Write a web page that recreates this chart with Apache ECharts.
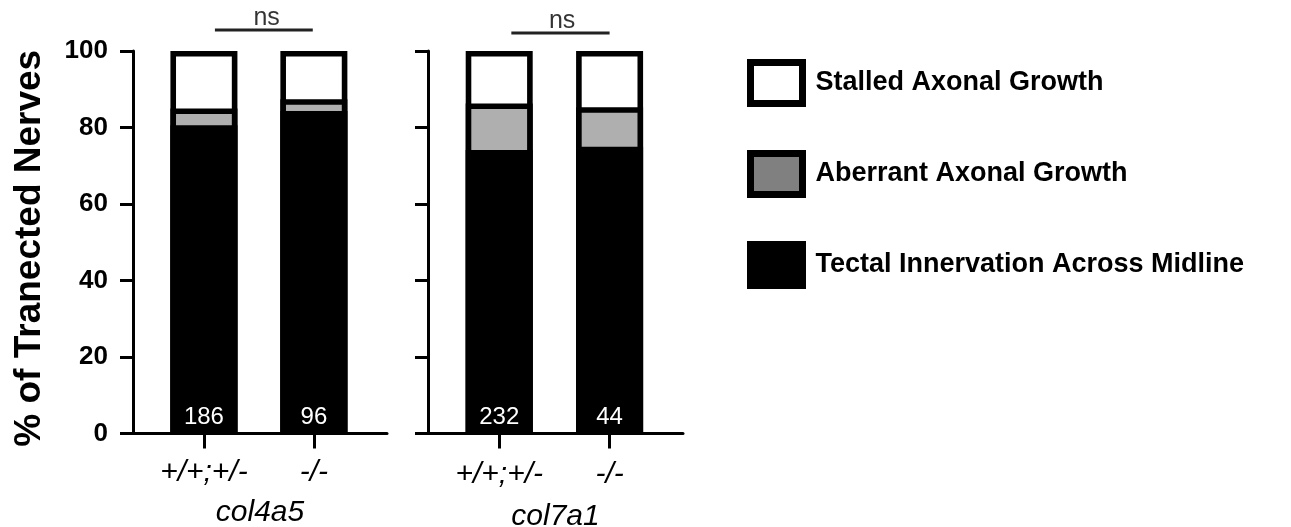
<!DOCTYPE html>
<html>
<head>
<meta charset="utf-8">
<script src="https://cdn.jsdelivr.net/npm/echarts@6/dist/echarts.min.js"></script>
<style>html,body{margin:0;padding:0;background:#fff;}#c{width:1291px;height:527px;}</style>
</head>
<body>
<div id="c"></div>
<script>
// ---- data ----
const groups = ['col4a5', 'col7a1'];
const genotypes = ['+/+;+/-', '-/-'];
const nCounts = [[186, 96], [232, 44]];
const tectal = [[80.6, 84.3], [74.1, 75.0]];
const aberrant = [[4.4, 3.1], [12.2, 10.3]];
const stalled = [[15.0, 12.6], [13.7, 14.7]];
const seriesNames = ['Stalled Axonal Growth', 'Aberrant Axonal Growth', 'Tectal Innervation Across Midline'];
const sigText = ['ns', 'ns'];
const bracketFrom = [0.10, 0.11];
const bracketTo = [0.99, 1.00];
const bracketY = [105.5, 104.7];
const sigX = [0.57, 0.57];
const sigY = [108.6, 107.8];
const yAxisTitle = '% of Tranected Nerves';

const FONT = '"Liberation Sans", Arial, sans-serif';
const chart = echarts.init(document.getElementById('c'), null, {renderer: 'canvas'});

// segments are drawn as overlapping bars from 0 to their cumulative top,
// the lower segments drawn over the upper ones (same look as a stacked bar)
const series = [];
[0, 1].forEach(g => {
  const topTectal = tectal[g].map(v => v);
  const topAberrant = tectal[g].map((v, i) => v + aberrant[g][i]);
  const topStalled = tectal[g].map((v, i) => v + aberrant[g][i] + stalled[g][i]);
  const base = {type: 'bar', xAxisIndex: g, yAxisIndex: g, barWidth: 67, barGap: '-100%'};
  series.push(Object.assign({}, base, {
    name: seriesNames[0], z: 2,
    data: topStalled.map((v, i) => [i, v]),
    itemStyle: {color: '#fff', borderColor: '#000', borderWidth: 5.6}
  }));
  series.push(Object.assign({}, base, {
    name: seriesNames[1], z: 3,
    data: topAberrant.map((v, i) => [i, v]),
    itemStyle: {color: '#afafaf', borderColor: '#000', borderWidth: 5.6}
  }));
  series.push(Object.assign({}, base, {
    name: seriesNames[2], z: 4,
    data: topTectal.map((v, i) => [i, v]),
    itemStyle: {color: '#000', borderColor: '#000', borderWidth: 5.6},
    label: {show: true, position: 'insideBottom', distance: 4, color: '#fff', fontSize: 24,
            fontFamily: FONT, formatter: p => String(nCounts[g][p.dataIndex])}
  }));
  series.push({
    type: 'line', name: 'bracket' + g, xAxisIndex: g, yAxisIndex: g, clip: false, silent: true,
    symbol: 'none', z: 5,
    data: [[bracketFrom[g], bracketY[g]], [bracketTo[g], bracketY[g]]],
    lineStyle: {color: '#222', width: 3}
  });
  series.push({
    type: 'scatter', name: 'sig' + g, xAxisIndex: g, yAxisIndex: g, clip: false, silent: true,
    symbolSize: 1, itemStyle: {color: 'rgba(0,0,0,0)'}, z: 5,
    data: [[sigX[g], sigY[g]]],
    label: {show: true, position: 'inside', formatter: sigText[g], fontSize: 25, color: '#000', fontFamily: FONT}
  });
});

const option = {
  animation: false,
  backgroundColor: '#fff',
  textStyle: {fontFamily: FONT},
  grid: [
    {left: 133, top: 51, width: 254, height: 382.5, outerBoundsMode: 'none', containLabel: false},
    {left: 428, top: 51, width: 255, height: 382.5, outerBoundsMode: 'none', containLabel: false}
  ],
  xAxis: [0, 1].map(g => ({
    type: 'value', gridIndex: g, min: -0.645, max: 1.665,
    splitLine: {show: false},
    axisLine: {show: true, onZero: false, lineStyle: {color: '#000', width: 3}},
    axisTick: {show: true, customValues: [0, 1], length: 15, lineStyle: {color: '#000', width: 3}},
    axisLabel: {show: true, customValues: [0, 1], formatter: v => genotypes[Math.round(v)] || '',
                fontSize: 30, fontStyle: 'italic', color: '#000', margin: g === 0 ? 24 : 26, fontFamily: FONT},
    name: groups[g], nameLocation: 'middle', nameGap: g === 0 ? 64 : 68,
    nameTextStyle: {fontSize: 30, fontStyle: 'italic', color: '#000', fontFamily: FONT}
  })),
  yAxis: [0, 1].map(g => ({
    type: 'value', gridIndex: g, min: 0, max: 100, interval: 20,
    splitLine: {show: false},
    axisLine: {show: true, onZero: false, lineStyle: {color: '#000', width: 3}},
    axisTick: {show: true, length: 13, lineStyle: {color: '#000', width: 3}},
    axisLabel: {show: g === 0, fontSize: 26, fontWeight: 'bold', color: '#000', margin: 25, fontFamily: FONT},
    name: g === 0 ? yAxisTitle : '', nameLocation: 'middle', nameGap: 85, nameRotate: 90,
    nameTextStyle: {fontSize: 37, fontWeight: 'bold', color: '#000', fontFamily: FONT, padding: [0, 12, 0, 0]}
  })),
  legend: {
    orient: 'vertical', left: 747, top: 59, icon: 'rect', padding: 0,
    itemWidth: 52, itemHeight: 41, itemGap: 43,
    selectedMode: false,
    textStyle: {fontSize: 27, fontWeight: 'bold', color: '#000', fontFamily: FONT, padding: [0, 0, 0, 8]},
    data: [
      {name: seriesNames[0], itemStyle: {color: '#fff', borderColor: '#000', borderWidth: 7}},
      {name: seriesNames[1], itemStyle: {color: '#808080', borderColor: '#000', borderWidth: 7}},
      {name: seriesNames[2], itemStyle: {color: '#000', borderColor: '#000', borderWidth: 7}}
    ]
  },
  series: series
};
chart.setOption(option);
</script>
</body>
</html>
